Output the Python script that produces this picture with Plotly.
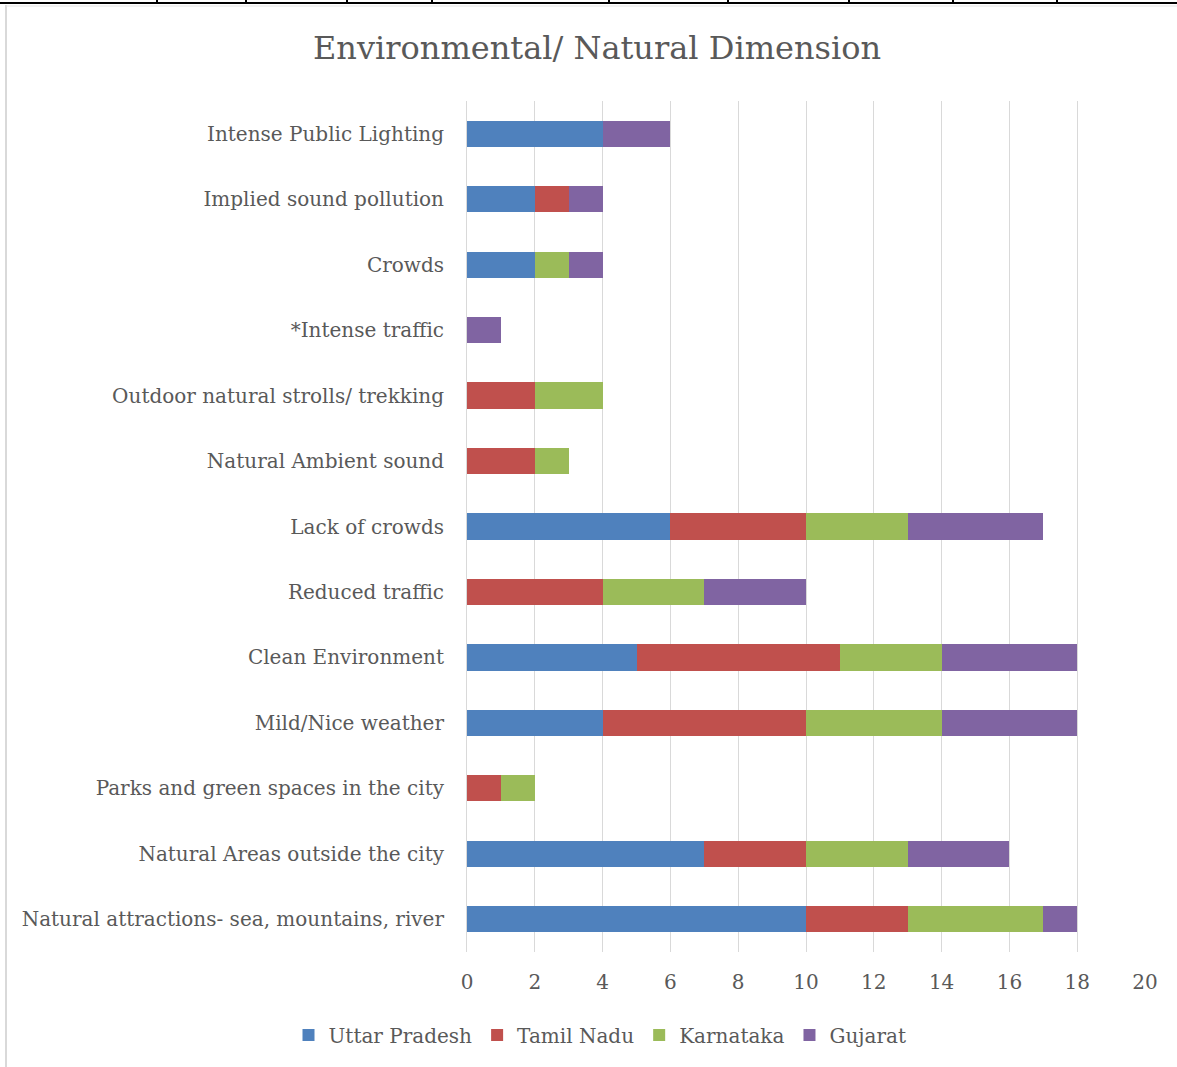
import plotly.graph_objects as go

categories = [
    "Intense Public Lighting",
    "Implied sound pollution",
    "Crowds",
    "*Intense traffic",
    "Outdoor natural strolls/ trekking",
    "Natural Ambient sound",
    "Lack of crowds",
    "Reduced traffic",
    "Clean Environment",
    "Mild/Nice weather",
    "Parks and green spaces in the city",
    "Natural Areas outside the city",
    "Natural attractions- sea, mountains, river",
]
uttar_pradesh = [4, 2, 2, 0, 0, 0, 6, 0, 5, 4, 0, 7, 10]
tamil_nadu    = [0, 1, 0, 0, 2, 2, 4, 4, 6, 6, 1, 3, 3]
karnataka     = [0, 0, 1, 0, 2, 1, 3, 3, 3, 4, 1, 3, 4]
gujarat       = [2, 1, 1, 1, 0, 0, 4, 3, 4, 4, 0, 3, 1]
x_ticks = [0, 2, 4, 6, 8, 10, 12, 14, 16, 18, 20]

series = [
    ("Uttar Pradesh", uttar_pradesh, "#4F81BD"),
    ("Tamil Nadu", tamil_nadu, "#C0504D"),
    ("Karnataka", karnataka, "#9BBB59"),
    ("Gujarat", gujarat, "#8064A2"),
]

FONT = "DejaVu Serif"
GREY = "#595959"
FS = 20

fig = go.Figure()
for name, vals, col in series:
    fig.add_trace(go.Bar(
        y=categories, x=vals, name=name, orientation="h",
        marker=dict(color=col, line=dict(width=0)),
    ))

fig.update_layout(
    barmode="stack",
    bargap=0.6,
    width=1177, height=1067,
    paper_bgcolor="white", plot_bgcolor="white",
    margin=dict(l=467, r=32, t=101, b=115, autoexpand=False),
    font=dict(family=FONT, color=GREY, size=FS),
    title=dict(text="Environmental/ Natural Dimension", x=597 / 1177, xanchor="center",
               y=1 - 48 / 1067, yanchor="middle",
               font=dict(family=FONT, size=32, color=GREY)),
    xaxis=dict(range=[0, 20], tickvals=x_ticks, showgrid=True, gridcolor="#D9D9D9",
               gridwidth=1, zeroline=False, showline=False, ticks="",
               ticklabelstandoff=16,
               tickfont=dict(size=FS, color=GREY)),
    yaxis=dict(categoryorder="array", categoryarray=categories[::-1],
               showline=True, linecolor="#D9D9D9", linewidth=1, ticks="",
               ticklabelstandoff=18,
               tickfont=dict(size=FS, color=GREY)),
    legend=dict(orientation="h", xref="container", x=600 / 1177, xanchor="center",
                yref="container", y=1 - 1035 / 1067,
                yanchor="middle", font=dict(size=FS, color=GREY),
                itemwidth=30, traceorder="normal", tracegroupgap=0),
    shapes=[
        dict(type="line", xref="paper", yref="paper", x0=-467/678, x1=(1177-467)/678,
             y0=1 + (101 - 3) / 851, y1=1 + (101 - 3) / 851,
             line=dict(color="black", width=2)),
        dict(type="line", xref="paper", yref="paper", x0=-(467-6)/678, x1=-(467-6)/678,
             y0=1 + (101 - 5) / 851, y1=-(1067 - 952) / 851,
             line=dict(color="#D9D9D9", width=2)),
        dict(type="line", xref="paper", yref="paper", x0=-(467-6)/678, x1=(1177-467)/678,
             y0=1 + (101 - 6) / 851, y1=1 + (101 - 6) / 851,
             line=dict(color="#E3E3E3", width=1)),
    ] + [
        dict(type="line", xref="paper", yref="paper", x0=(px-467)/678, x1=(px-467)/678,
             y0=1 + (101 - 3) / 851, y1=1 + (101 + 1) / 851,
             line=dict(color="black", width=2))
        for px in [157, 246, 347, 432, 609, 728, 849, 953, 1057]
    ],
)

fig.write_html("out.html")
